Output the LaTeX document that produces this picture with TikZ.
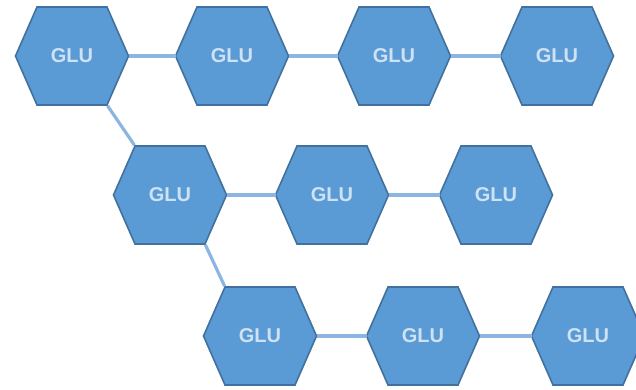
\documentclass[tikz,border=0pt]{standalone}
\usepackage{fontspec}
\setmainfont{Liberation Sans}
\definecolor{hexfill}{HTML}{5B9BD5}
\definecolor{hexline}{HTML}{41719C}
\definecolor{conn}{HTML}{8CB5E1}
\definecolor{glutext}{HTML}{CFE2F4}
\tikzset{
  glu/.style={inner sep=0pt, text=glutext, font=\bfseries\fontsize{20}{20}\selectfont},
  hexshape/.style={fill=hexfill, draw=hexline, line width=1.6pt, line join=miter},
  link/.style={draw=conn, line width=3.2pt},
}
\newcommand\gluhex[3]{%
  \path[hexshape] (#2-56.5,#3) coordinate (#1-w)
    -- (#2-35,#3-49) coordinate (#1-tl)
    -- (#2+35,#3-49) coordinate (#1-tr)
    -- (#2+56.5,#3) coordinate (#1-e)
    -- (#2+35,#3+49) coordinate (#1-br)
    -- (#2-35,#3+49) coordinate (#1-bl) -- cycle;
  \node[glu] (#1) at (#2,#3) {GLU};}
\begin{document}
\begin{tikzpicture}[x=1pt,y=-1pt]
\useasboundingbox (0,0) rectangle (636,390);
% hexagons
\gluhex{a1}{72}{56}
\gluhex{a2}{232}{56}
\gluhex{a3}{394}{56}
\gluhex{a4}{557}{56}
\gluhex{b1}{170}{195}
\gluhex{b2}{332}{195}
\gluhex{b3}{496}{195}
\gluhex{c1}{260}{336}
\gluhex{c2}{423}{336}
\gluhex{c3}{588}{336}
% connectors between hexagons
\draw[link] (a1-e) -- (a2-w);
\draw[link] (a2-e) -- (a3-w);
\draw[link] (a3-e) -- (a4-w);
\draw[link] (b1-e) -- (b2-w);
\draw[link] (b2-e) -- (b3-w);
\draw[link] (c1-e) -- (c2-w);
\draw[link] (c2-e) -- (c3-w);
\draw[link, shorten <=1pt, shorten >=1pt] (a1-br) -- (b1-tl);
\draw[link, shorten <=1pt, shorten >=1pt] (b1-br) -- (c1-tl);
\end{tikzpicture}
\end{document}
